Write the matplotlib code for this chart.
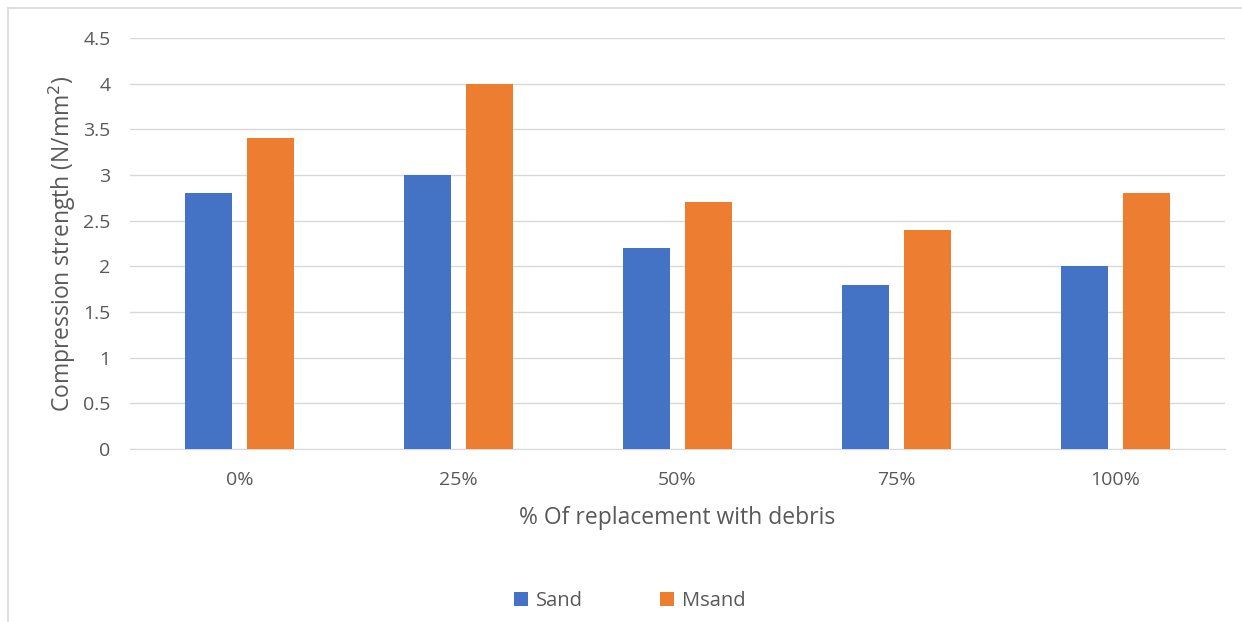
import numpy as np
import matplotlib.pyplot as plt
from matplotlib.lines import Line2D

# data
categories = ["0%", "25%", "50%", "75%", "100%"]
sand = [2.8, 3.0, 2.2, 1.8, 2.0]
msand = [3.4, 4.0, 2.7, 2.4, 2.8]

plt.rcParams['font.family'] = ['Open Sans', 'DejaVu Sans']
txt = '#595959'

fig = plt.figure(figsize=(12.42, 6.22), dpi=100)
ax = fig.add_axes([130/1242, 1 - 449/622, 1095/1242, 411/622])

x = np.arange(len(categories))
w = 0.215
ax.bar(x - 0.141, sand, w, color='#4472C4', label='Sand', zorder=3)
ax.bar(x + 0.141, msand, w, color='#ED7D31', label='Msand', zorder=3)

ax.set_xlim(-0.5, len(categories) - 0.5)
ax.set_ylim(0, 4.5)
ax.set_yticks(np.arange(0, 4.51, 0.5))
ax.set_yticklabels(['0', '0.5', '1', '1.5', '2', '2.5', '3', '3.5', '4', '4.5'])
ax.set_xticks(x)
ax.set_xticklabels(categories)
ax.grid(axis='y', color='#d9d9d9', linewidth=1, zorder=0)
for s in ['top', 'right', 'left']:
    ax.spines[s].set_visible(False)
ax.spines['bottom'].set_color('#d9d9d9')
ax.tick_params(length=0, colors=txt, labelsize=14)
ax.tick_params(axis='y', pad=14)
ax.tick_params(axis='x', pad=16)

ax.set_ylabel('Compression strength (N/mm$^2$)', color=txt, fontsize=16.5, labelpad=4)
ax.set_xlabel('% Of replacement with debris', color=txt, fontsize=16.5, labelpad=12)

ax.legend(loc='center', bbox_to_anchor=(630/1242, 1 - 601/622), bbox_transform=fig.transFigure,
          ncol=2, frameon=False, fontsize=14.5, labelcolor=txt, handlelength=0.7,
          handleheight=0.7, columnspacing=3.8, handletextpad=0.4)

# outer chart border (top and left only visible)
fig.add_artist(Line2D([8/1242, 1], [1 - 8/622, 1 - 8/622], transform=fig.transFigure,
                      color='#d9d9d9', linewidth=1.2))
fig.add_artist(Line2D([8/1242, 8/1242], [0, 1 - 8/622], transform=fig.transFigure,
                      color='#d9d9d9', linewidth=1.2))

fig.savefig('out.png', dpi=100)
